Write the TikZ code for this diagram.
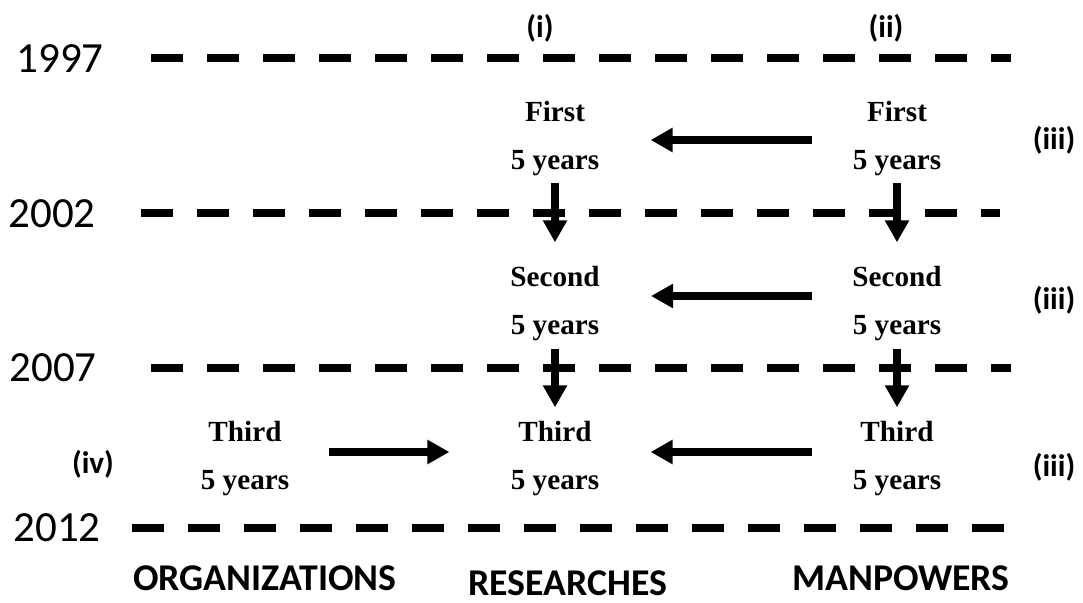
\documentclass[tikz,border=0pt]{standalone}
\usepackage{fontspec}
\setmainfont{Liberation Serif}
\newfontfamily\carlito{Carlito}
\usetikzlibrary{arrows.meta}
\tikzset{
  yearlabel/.style={font=\carlito\fontsize{21.5}{24}\selectfont},
  yearline/.style={line width=4pt, dash pattern=on 16pt off 12pt},
  period/.style={align=center, inner sep=0pt, font=\bfseries\fontsize{14.6}{24}\selectfont},
  tag/.style={font=\carlito\bfseries\fontsize{15.6}{18}\selectfont},
  column/.style={font=\carlito\bfseries\fontsize{18.9}{22}\selectfont},
  flow/.style={-{Triangle[length=11pt,width=11.5pt]}, line width=4pt},
  across/.style={flow, shorten <=20pt, shorten >=25.5pt}
}

\begin{document}
\begin{tikzpicture}[x=0.5pt, y=-0.5pt]
  \useasboundingbox (0,0) rectangle (1083,603);

  % years and their dashed lines
  \node[yearlabel] (y1997) at (60,59) {1997};
  \node[yearlabel] (y2002) at (52,214) {2002};
  \node[yearlabel] (y2007) at (53,368) {2007};
  \node[yearlabel] (y2012) at (57,528) {2012};
  \foreach \y/\xa/\xb in {58/151/1011, 213/141/1000, 368/151/1011, 528/132/1010}{
    \draw[yearline] (\xa,\y) -- (\xb,\y);
  }

  % five-year periods
  \node[period] (res1) at (555,139) {First\\5 years};
  \node[period] (man1) at (897,139) {First\\5 years};
  \node[period] (res2) at (555,304) {Second\\5 years};
  \node[period] (man2) at (897,304) {Second\\5 years};
  \node[period] (org3) at (245,459) {Third\\5 years};
  \node[period] (res3) at (555,459) {Third\\5 years};
  \node[period] (man3) at (897,459) {Third\\5 years};

  % tags
  \node[tag] (tagi) at (540,28) {(i)};
  \node[tag] (tagii) at (886,28) {(ii)};
  \node[tag] (tagiiia) at (1054,140) {(iii)};
  \node[tag] (tagiiib) at (1054,300) {(iii)};
  \node[tag] (tagiiic) at (1054,467) {(iii)};
  \node[tag] (tagiv) at (93,464) {(iv)};

  % columns
  \node[column] (orgs) at (265,578) {ORGANIZATIONS};
  \node[column] (ress) at (568,583) {RESEARCHES};
  \node[column] (mans) at (901,578) {MANPOWERS};

  % arrows
  \draw[across] ([yshift=-0.5pt]man1.west) -- ([yshift=-0.5pt]res1.east);
  \draw[across] ([yshift=4pt]man2.west) -- ([yshift=4pt]res2.east);
  \draw[across] ([yshift=3.5pt]man3.west) -- ([yshift=3.5pt]res3.east);
  \draw[flow, shorten <=19.5pt, shorten >=30.5pt] ([yshift=3.5pt]org3.east) -- ([yshift=3.5pt]res3.west);
  \draw[flow, shorten <=3pt, shorten >=12pt] (res1) -- (res2);
  \draw[flow, shorten <=3pt, shorten >=12pt] (man1) -- (man2);
  \draw[flow, shorten <=3.5pt, shorten >=7pt] (res2) -- (res3);
  \draw[flow, shorten <=3.5pt, shorten >=7pt] (man2) -- (man3);
\end{tikzpicture}
\end{document}
